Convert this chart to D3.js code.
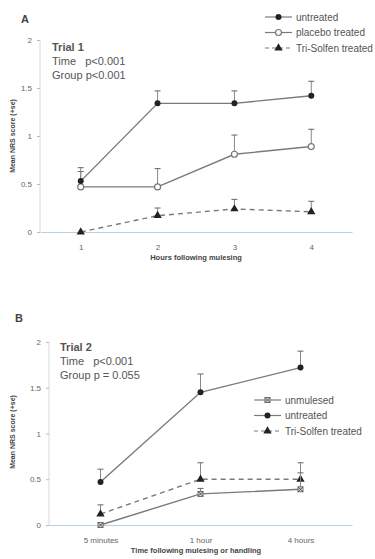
<!DOCTYPE html>
<html lang="en">
<head>
    <meta charset="UTF-8">
    <title>Mean NRS score</title>
    <script src="https://d3js.org/d3.v7.min.js" charset="utf-8"></script>
    <style>
        body { margin: 0; background: #fff; }
        svg { font-family: "Liberation Sans", Arial, sans-serif; }
        .axis text { font-size: 8px; fill: #666; }
        .note { font-size: 11px; fill: #555; }
    </style>
</head>
<body>
<script>
    // ---- data ----
    // Trial 1
    let hoursA = ['1', '2', '3', '4'];
    let untreatedA = [0.53, 1.34, 1.34, 1.42];
    let untreatedErrA = [0.67, 1.47, 1.47, 1.57];
    let placeboA = [0.47, 0.47, 0.81, 0.89];
    let placeboErrA = [0.63, 0.66, 1.01, 1.07];
    let trisolfenA = [0, 0.17, 0.24, 0.21];
    let trisolfenErrA = [0, 0.25, 0.34, 0.32];

    // Trial 2
    let timesB = ['5 minutes', '1 hour', '4 hours'];
    let unmulesedB = [0, 0.34, 0.39];
    let unmulesedErrB = [0, 0.40, 0.57];
    let untreatedB = [0.47, 1.45, 1.72];
    let untreatedErrB = [0.61, 1.65, 1.90];
    let trisolfenB = [0.12, 0.50, 0.50];
    let trisolfenErrB = [0.22, 0.68, 0.68];

    let yTicks = [0, 0.5, 1, 1.5, 2];

    var svg = d3.select('body').append('svg').attr('width', 375).attr('height', 559);

    var lineColor = '#7a7a7a';

    function marker(g, type, x, y) {
        if (type === 'filled') {
            g.append('circle').attr('cx', x).attr('cy', y).attr('r', 3).attr('fill', '#222');
        } else if (type === 'open') {
            g.append('circle').attr('cx', x).attr('cy', y).attr('r', 3)
                .attr('fill', '#fff').attr('stroke', '#777').attr('stroke-width', 1.2);
        } else if (type === 'triangle') {
            g.append('path').attr('transform', 'translate(' + x + ',' + y + ')')
                .attr('d', d3.symbol().type(d3.symbolTriangle).size(30)()).attr('fill', '#222');
        } else if (type === 'cross') {
            g.append('rect').attr('x', x - 2.5).attr('y', y - 2.5).attr('width', 5).attr('height', 5)
                .attr('fill', '#ddd').attr('stroke', '#555').attr('stroke-width', 0.8);
            g.append('path').attr('d', 'M' + (x - 2.5) + ',' + (y - 2.5) + 'L' + (x + 2.5) + ',' + (y + 2.5)
                + 'M' + (x + 2.5) + ',' + (y - 2.5) + 'L' + (x - 2.5) + ',' + (y + 2.5))
                .attr('stroke', '#333').attr('stroke-width', 0.8);
        }
    }

    function drawPanel(p) {
        let x = d3.scalePoint().domain(p.cats).range([p.left, p.right]).padding(p.pad);
        let y = d3.scaleLinear().domain([0, 2]).range([p.bottom, p.top]);
        let g = svg.append('g');

        // axes
        let yAxis = d3.axisLeft(y).tickValues(yTicks).tickSize(3).tickPadding(5)
            .tickFormat(d3.format('~g'));
        let ya = g.append('g').attr('class', 'axis').attr('transform', 'translate(' + p.left + ',0)').call(yAxis);
        ya.select('.domain').attr('stroke', '#d8d8d8').attr('d', 'M0,' + p.bottom + 'V' + p.top);
        ya.selectAll('line').attr('stroke', '#bbb');

        let xAxis = d3.axisBottom(x).tickSize(0).tickPadding(12);
        let xa = g.append('g').attr('class', 'axis').attr('transform', 'translate(0,' + p.bottom + ')').call(xAxis);
        xa.select('.domain').attr('stroke', '#b9d0e2').attr('stroke-width', 1);

        // series
        p.series.forEach(function (s) {
            let pts = p.cats.map(function (c, i) { return {c: c, v: s.values[i], e: s.err[i]}; });
            // error bars (upper only)
            pts.forEach(function (d) {
                if (d.e > d.v) {
                    g.append('line').attr('x1', x(d.c)).attr('x2', x(d.c))
                        .attr('y1', y(d.v)).attr('y2', y(d.e)).attr('stroke', '#888').attr('stroke-width', 1);
                    g.append('line').attr('x1', x(d.c) - 3).attr('x2', x(d.c) + 3)
                        .attr('y1', y(d.e)).attr('y2', y(d.e)).attr('stroke', '#666').attr('stroke-width', 1);
                }
            });
            g.append('path').datum(pts)
                .attr('fill', 'none').attr('stroke', lineColor).attr('stroke-width', 1.4)
                .attr('stroke-dasharray', s.dashed ? '5,4' : null)
                .attr('d', d3.line().x(function (d) { return x(d.c); }).y(function (d) { return y(d.v); }));
            pts.forEach(function (d) { marker(g, s.marker, x(d.c), y(d.v)); });
        });

        // panel letter
        g.append('text').attr('x', p.letterX).attr('y', p.letterY).attr('font-size', 11)
            .attr('font-weight', 'bold').attr('fill', '#444').text(p.letter);

        // notes
        p.notes.forEach(function (t, i) {
            g.append('text').attr('class', 'note').attr('x', p.noteX).attr('y', p.noteY + i * 14)
                .attr('font-weight', i === 0 ? 'bold' : null).attr('fill', i === 0 ? '#333' : '#555')
                .attr('xml:space', 'preserve').style('white-space', 'pre').text(t);
        });

        // legend
        p.series.slice().sort(function (a, b) { return a.legendRow - b.legendRow; }).forEach(function (s, i) {
            let ly = p.legY + i * 15.5;
            g.append('line').attr('x1', p.legX).attr('x2', p.legX + 27).attr('y1', ly).attr('y2', ly)
                .attr('stroke', lineColor).attr('stroke-width', 1.2)
                .attr('stroke-dasharray', s.dashed ? '4,3' : null);
            marker(g, s.marker, p.legX + 13.5, ly);
            g.append('text').attr('x', p.legX + 31).attr('y', ly + 3.5).attr('font-size', 10)
                .attr('fill', '#555').text(s.name);
        });

        // axis titles
        g.append('text').attr('transform', 'translate(' + p.yTitleX + ',' + p.yTitleY + ') rotate(-90)')
            .attr('text-anchor', 'middle').attr('font-size', 7).attr('font-weight', 'bold').attr('fill', '#444')
            .text('Mean NRS score (+se)');
        g.append('text').attr('x', 196).attr('y', p.bottom + 28).attr('text-anchor', 'middle')
            .attr('font-size', 7.5).attr('font-weight', 'bold').attr('fill', '#444').text(p.xTitle);
    }

    drawPanel({
        cats: hoursA, left: 40, right: 352, pad: 0.53, top: 40, bottom: 232,
        letter: 'A', letterX: 21, letterY: 23,
        notes: ['Trial 1', 'Time   p<0.001', 'Group p<0.001'], noteX: 52, noteY: 51,
        legX: 265, legY: 17,
        yTitleX: 15, yTitleY: 136, xTitle: 'Hours following mulesing',
        series: [
            {name: 'Tri-Solfen treated', values: trisolfenA, err: trisolfenErrA, marker: 'triangle', dashed: true, legendRow: 2},
            {name: 'placebo treated', values: placeboA, err: placeboErrA, marker: 'open', legendRow: 1},
            {name: 'untreated', values: untreatedA, err: untreatedErrA, marker: 'filled', legendRow: 0}
        ]
    });

    drawPanel({
        cats: timesB, left: 49, right: 352, pad: 0.515, top: 342, bottom: 525,
        letter: 'B', letterX: 15, letterY: 322,
        notes: ['Trial 2', 'Time   p<0.001', 'Group p = 0.055'], noteX: 60, noteY: 351,
        legX: 254, legY: 400,
        yTitleX: 15, yTitleY: 432, xTitle: 'Time following mulesing or handling',
        series: [
            {name: 'Tri-Solfen treated', values: trisolfenB, err: trisolfenErrB, marker: 'triangle', dashed: true, legendRow: 2},
            {name: 'unmulesed', values: unmulesedB, err: unmulesedErrB, marker: 'cross', legendRow: 0},
            {name: 'untreated', values: untreatedB, err: untreatedErrB, marker: 'filled', legendRow: 1}
        ]
    });
</script>
</body>
</html>
